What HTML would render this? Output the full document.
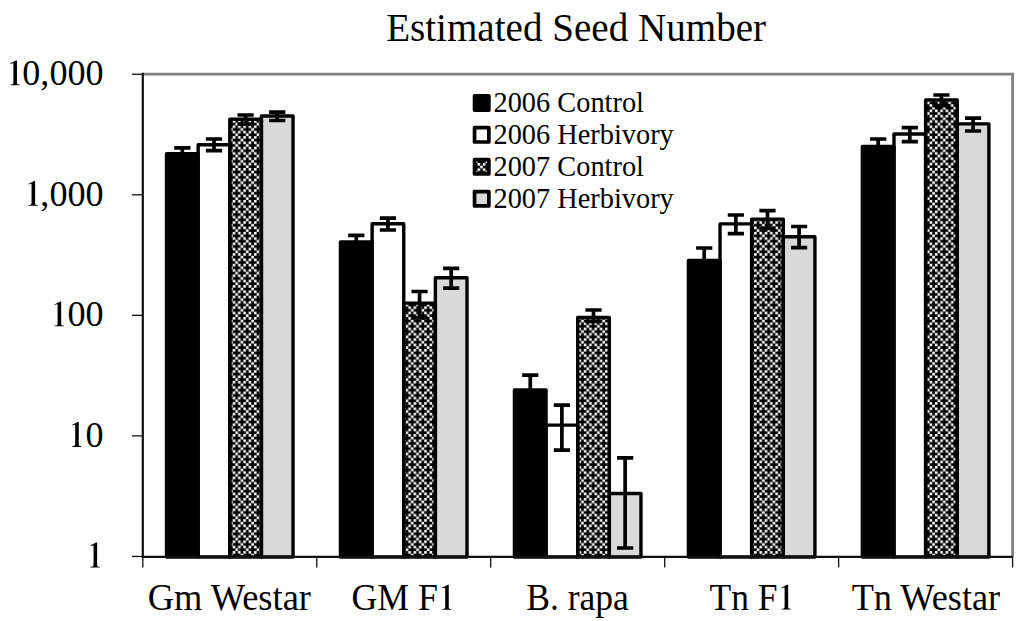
<!DOCTYPE html>
<html><head><meta charset="utf-8"><style>
html,body{margin:0;padding:0;background:#fff;width:1024px;height:621px;overflow:hidden}
svg{display:block}
text{font-family:"Liberation Serif",serif;fill:#000}
</style></head><body>
<svg width="1024" height="621" viewBox="0 0 1024 621">
<defs>
<pattern id="chk" patternUnits="userSpaceOnUse" x="-1.410" y="-2.210" width="10.64" height="10.64"><rect width="10.64" height="10.64" fill="#000"/><rect x="0.030" y="0.030" width="2.6" height="2.6" fill="#fff"/><rect x="5.350" y="0.030" width="2.6" height="2.6" fill="#fff"/><rect x="8.010" y="2.690" width="2.6" height="2.6" fill="#fff"/><rect x="0.030" y="5.350" width="2.6" height="2.6" fill="#fff"/><rect x="5.350" y="5.350" width="2.6" height="2.6" fill="#fff"/><rect x="2.690" y="8.010" width="2.6" height="2.6" fill="#fff"/></pattern>
<pattern id="chk2" patternUnits="userSpaceOnUse" x="472.17" y="162.97" width="10.64" height="10.64"><rect width="10.64" height="10.64" fill="#000"/><rect x="0.030" y="0.030" width="2.6" height="2.6" fill="#fff"/><rect x="5.350" y="0.030" width="2.6" height="2.6" fill="#fff"/><rect x="8.010" y="2.690" width="2.6" height="2.6" fill="#fff"/><rect x="0.030" y="5.350" width="2.6" height="2.6" fill="#fff"/><rect x="5.350" y="5.350" width="2.6" height="2.6" fill="#fff"/><rect x="2.690" y="8.010" width="2.6" height="2.6" fill="#fff"/></pattern>
</defs>
<rect width="1024" height="621" fill="#fff"/>
<text transform="translate(386.13 41.40) scale(0.9775 1)" font-size="40">Estimated Seed Number</text>
<path d="M142.8 74.1H1012.6V556.95" fill="none" stroke="#808080" stroke-width="2.8"/>
<g stroke="#111" stroke-width="1.3" fill="none"><path d="M132 74.24H142.8"/><path d="M132 194.79H142.8"/><path d="M132 315.34H142.8"/><path d="M132 435.89H142.8"/><path d="M132 556.44H142.8"/><path d="M142.80 556.95V567.4"/><path d="M316.76 556.95V567.4"/><path d="M490.72 556.95V567.4"/><path d="M664.68 556.95V567.4"/><path d="M838.64 556.95V567.4"/><path d="M1012.60 556.95V567.4"/></g>
<g><text transform="translate(22.31 85.24) scale(0.992 1)" font-size="36.4">0,000</text><path d="M138 602L298 683L326 683L326 70C326 32 345 22 400 20L400 0L146 0L146 20C202 22 228 32 228 70L228 575C228 598 222 605 208 605C195 605 175 597 150 588Z" transform="translate(5.10 85.24) scale(0.03640 -0.03640)"/><text transform="translate(40.36 205.79) scale(0.992 1)" font-size="36.4">,000</text><path d="M138 602L298 683L326 683L326 70C326 32 345 22 400 20L400 0L146 0L146 20C202 22 228 32 228 70L228 575C228 598 222 605 208 605C195 605 175 597 150 588Z" transform="translate(23.25 205.79) scale(0.03640 -0.03640)"/><text transform="translate(67.45 326.34) scale(0.992 1)" font-size="36.4">00</text><path d="M138 602L298 683L326 683L326 70C326 32 345 22 400 20L400 0L146 0L146 20C202 22 228 32 228 70L228 575C228 598 222 605 208 605C195 605 175 597 150 588Z" transform="translate(49.30 326.34) scale(0.03640 -0.03640)"/><text transform="translate(85.50 446.89) scale(0.992 1)" font-size="36.4">0</text><path d="M138 602L298 683L326 683L326 70C326 32 345 22 400 20L400 0L146 0L146 20C202 22 228 32 228 70L228 575C228 598 222 605 208 605C195 605 175 597 150 588Z" transform="translate(66.90 446.89) scale(0.03640 -0.03640)"/><path d="M138 602L298 683L326 683L326 70C326 32 345 22 400 20L400 0L146 0L146 20C202 22 228 32 228 70L228 575C228 598 222 605 208 605C195 605 175 597 150 588Z" transform="translate(85.25 567.44) scale(0.03640 -0.03640)"/><text transform="translate(147.64 609.80) scale(0.9848 1)" font-size="37">Gm Westar</text><text transform="translate(351.47 609.70) scale(0.9669 1)" font-size="37">GM F</text><path d="M138 602L298 683L326 683L326 70C326 32 345 22 400 20L400 0L146 0L146 20C202 22 228 32 228 70L228 575C228 598 222 605 208 605C195 605 175 597 150 588Z" transform="translate(436.89 609.70) scale(0.03644 -0.03644)"/><text transform="translate(526.33 609.70) scale(0.9595 1)" font-size="37">B. rapa</text><text transform="translate(709.58 609.60) scale(0.9577 1)" font-size="37">Tn F</text><path d="M138 602L298 683L326 683L326 70C326 32 345 22 400 20L400 0L146 0L146 20C202 22 228 32 228 70L228 575C228 598 222 605 208 605C195 605 175 597 150 588Z" transform="translate(776.29 609.60) scale(0.03644 -0.03644)"/><text transform="translate(851.66 609.50) scale(0.9808 1)" font-size="37">Tn Westar</text></g>
<g><rect x="166.52" y="153.70" width="31.63" height="403.25" fill="#000"/><rect x="198.15" y="144.70" width="31.63" height="412.25" fill="#fff"/><rect x="229.78" y="119.30" width="31.63" height="437.65" fill="url(#chk)"/><rect x="261.41" y="116.00" width="31.63" height="440.95" fill="#d9d9d9"/><rect x="340.48" y="241.90" width="31.63" height="315.05" fill="#000"/><rect x="372.11" y="223.70" width="31.63" height="333.25" fill="#fff"/><rect x="403.74" y="303.10" width="31.63" height="253.85" fill="url(#chk)"/><rect x="435.37" y="277.70" width="31.63" height="279.25" fill="#d9d9d9"/><rect x="514.44" y="389.90" width="31.63" height="167.05" fill="#000"/><rect x="546.07" y="425.10" width="31.63" height="131.85" fill="#fff"/><rect x="577.70" y="317.50" width="31.63" height="239.45" fill="url(#chk)"/><rect x="609.33" y="493.50" width="31.63" height="63.45" fill="#d9d9d9"/><rect x="688.40" y="260.40" width="31.63" height="296.55" fill="#000"/><rect x="720.03" y="223.90" width="31.63" height="333.05" fill="#fff"/><rect x="751.66" y="219.10" width="31.63" height="337.85" fill="url(#chk)"/><rect x="783.29" y="236.80" width="31.63" height="320.15" fill="#d9d9d9"/><rect x="862.36" y="146.40" width="31.63" height="410.55" fill="#000"/><rect x="893.99" y="134.00" width="31.63" height="422.95" fill="#fff"/><rect x="925.62" y="99.90" width="31.63" height="457.05" fill="url(#chk)"/><rect x="957.25" y="123.90" width="31.63" height="433.05" fill="#d9d9d9"/></g>
<g fill="none" stroke="#000" stroke-width="3.4" stroke-linejoin="round"><rect x="166.52" y="153.70" width="31.63" height="403.25"/><rect x="198.15" y="144.70" width="31.63" height="412.25"/><rect x="229.78" y="119.30" width="31.63" height="437.65"/><rect x="261.41" y="116.00" width="31.63" height="440.95"/><rect x="340.48" y="241.90" width="31.63" height="315.05"/><rect x="372.11" y="223.70" width="31.63" height="333.25"/><rect x="403.74" y="303.10" width="31.63" height="253.85"/><rect x="435.37" y="277.70" width="31.63" height="279.25"/><rect x="514.44" y="389.90" width="31.63" height="167.05"/><rect x="546.07" y="425.10" width="31.63" height="131.85"/><rect x="577.70" y="317.50" width="31.63" height="239.45"/><rect x="609.33" y="493.50" width="31.63" height="63.45"/><rect x="688.40" y="260.40" width="31.63" height="296.55"/><rect x="720.03" y="223.90" width="31.63" height="333.05"/><rect x="751.66" y="219.10" width="31.63" height="337.85"/><rect x="783.29" y="236.80" width="31.63" height="320.15"/><rect x="862.36" y="146.40" width="31.63" height="410.55"/><rect x="893.99" y="134.00" width="31.63" height="422.95"/><rect x="925.62" y="99.90" width="31.63" height="457.05"/><rect x="957.25" y="123.90" width="31.63" height="433.05"/></g>
<g stroke="#000" stroke-width="3.7" fill="none"><path d="M182.34 147.80V159.60M174.24 147.80h16.2M174.24 159.60h16.2"/><path d="M213.97 139.00V150.60M205.87 139.00h16.2M205.87 150.60h16.2"/><path d="M245.59 115.00V124.00M237.49 115.00h16.2M237.49 124.00h16.2"/><path d="M277.22 112.10V120.50M269.12 112.10h16.2M269.12 120.50h16.2"/><path d="M356.30 235.30V248.50M348.20 235.30h16.2M348.20 248.50h16.2"/><path d="M387.93 218.10V230.00M379.83 218.10h16.2M379.83 230.00h16.2"/><path d="M419.55 291.50V317.80M411.45 291.50h16.2M411.45 317.80h16.2"/><path d="M451.18 268.40V288.20M443.08 268.40h16.2M443.08 288.20h16.2"/><path d="M530.26 375.10V404.70M522.16 375.10h16.2M522.16 404.70h16.2"/><path d="M561.89 405.20V450.20M553.79 405.20h16.2M553.79 450.20h16.2"/><path d="M593.51 310.00V321.50M585.41 310.00h16.2M585.41 321.50h16.2"/><path d="M625.14 457.80V548.00M617.04 457.80h16.2M617.04 548.00h16.2"/><path d="M704.22 248.00V272.80M696.12 248.00h16.2M696.12 272.80h16.2"/><path d="M735.85 215.00V233.60M727.75 215.00h16.2M727.75 233.60h16.2"/><path d="M767.47 210.70V228.30M759.37 210.70h16.2M759.37 228.30h16.2"/><path d="M799.10 226.50V247.70M791.00 226.50h16.2M791.00 247.70h16.2"/><path d="M878.18 139.00V153.80M870.08 139.00h16.2M870.08 153.80h16.2"/><path d="M909.81 127.70V141.60M901.71 127.70h16.2M901.71 141.60h16.2"/><path d="M941.43 95.00V105.60M933.33 95.00h16.2M933.33 105.60h16.2"/><path d="M973.06 118.20V131.00M964.96 118.20h16.2M964.96 131.00h16.2"/></g>
<path d="M142.8 72.8V556.95H1012.6" fill="none" stroke="#111" stroke-width="2.2"/>
<g><rect x="474.55" y="95.75" width="14.3" height="14.3" fill="#000" stroke="#000" stroke-width="3.7" stroke-linejoin="round"/><text transform="translate(493.52 111.90) scale(0.9516 1)" font-size="29.8">2006 Control</text><rect x="474.55" y="127.70" width="14.3" height="14.3" fill="#fff" stroke="#000" stroke-width="3.7" stroke-linejoin="round"/><text transform="translate(493.52 143.85) scale(0.9514 1)" font-size="29.8">2006 Herbivory</text><rect x="474.55" y="159.65" width="14.3" height="14.3" fill="url(#chk2)" stroke="#000" stroke-width="3.7" stroke-linejoin="round"/><text transform="translate(493.52 175.80) scale(0.9516 1)" font-size="29.8">2007 Control</text><rect x="474.55" y="191.60" width="14.3" height="14.3" fill="#d9d9d9" stroke="#000" stroke-width="3.7" stroke-linejoin="round"/><text transform="translate(493.52 207.75) scale(0.9514 1)" font-size="29.8">2007 Herbivory</text></g>
</svg>
</body></html>
